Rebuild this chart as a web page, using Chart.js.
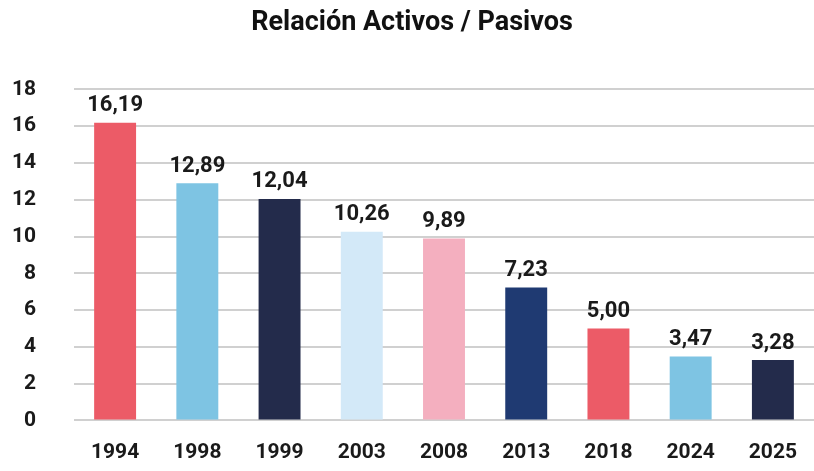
<!DOCTYPE html>
<html>
<head>
<meta charset="utf-8">
<script src="https://cdn.jsdelivr.net/npm/chart.js@4"></script>
<style>
  html, body { margin: 0; padding: 0; background: #fff; overflow: hidden; }
  #wrap { position: relative; width: 814px; height: 471px; }
  canvas { display: block; }
</style>
</head>
<body>
<div id="wrap"><canvas id="c"></canvas></div>
<script>
const YEARS = ['1994','1998','1999','2003','2008','2013','2018','2024','2025'];
const RATIO = [16.19, 12.89, 12.04, 10.26, 9.89, 7.23, 5.00, 3.47, 3.28];
const BAR_COLORS = ['#EC5B67','#7EC4E3','#232B4B','#D3E9F8','#F4AFBF','#1F3A72','#EC5B67','#7EC4E3','#232B4B'];

// valores encima de las barras + años debajo del eje
const valueLabels = {
  id: 'valueLabels',
  afterDraw(chart) {
    const { ctx, chartArea } = chart;
    const meta = chart.getDatasetMeta(0);
    const xs = chart.scales.x;
    ctx.save();
    ctx.fillStyle = '#1a1a1a';
    ctx.textAlign = 'center';
    ctx.font = '700 22px Roboto';
    ctx.textBaseline = 'bottom';
    meta.data.forEach((el, i) => {
      ctx.fillText(RATIO[i].toFixed(2).replace('.', ','), el.x, el.y - 6);
    });
    ctx.font = '700 21px Roboto';
    ctx.textBaseline = 'middle';
    chart.data.labels.forEach((lab, i) => {
      ctx.fillText(lab, xs.getPixelForValue(i), chartArea.bottom + 32);
    });
    ctx.restore();
  }
};

new Chart(document.getElementById('c'), {
  type: 'bar',
  data: {
    labels: YEARS,
    datasets: [{
      data: RATIO,
      backgroundColor: BAR_COLORS,
      categoryPercentage: 1,
      barPercentage: 0.51
    }]
  },
  options: {
    responsive: true, maintainAspectRatio: false,
    animation: false,
    layout: { padding: { left: 10, right: 0, top: 0, bottom: 45 } },
    plugins: {
      legend: { display: false },
      tooltip: { enabled: false },
      title: {
        display: true,
        text: 'Relación Activos / Pasivos',
        color: '#111',
        font: { family: 'Roboto', size: 27, weight: '700' },
        padding: { top: 7, bottom: 50 }
      }
    },
    scales: {
      x: {
        grid: { display: false, drawTicks: false },
        border: { display: false },
        ticks: { display: false }
      },
      y: {
        min: 0, max: 18,
        afterFit(scale) { scale.width = 64; },
        grid: { color: '#d0d0d0', lineWidth: 2, drawTicks: false },
        border: { display: false },
        ticks: { stepSize: 2, color: '#1a1a1a', padding: 38, font: { family: 'Roboto', size: 21, weight: '700' } }
      }
    }
  },
  plugins: [valueLabels]
});
</script>
</body>
</html>
